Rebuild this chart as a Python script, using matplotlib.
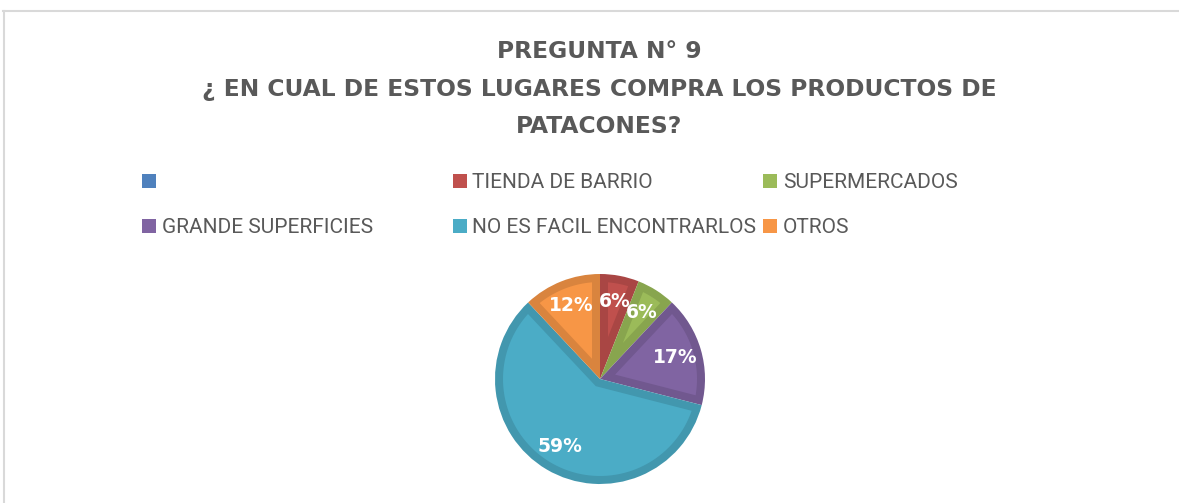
import numpy as np
import matplotlib

matplotlib.use("Agg")
import matplotlib.pyplot as plt
from matplotlib.patches import Rectangle, Polygon
from matplotlib.lines import Line2D
from matplotlib.colors import to_rgb

W, H = 1179, 503

TITLE_LINES = [
    "PREGUNTA N° 9",
    "¿ EN CUAL DE ESTOS LUGARES COMPRA LOS PRODUCTOS DE",
    "PATACONES?",
]
CATEGORIES = ["", "TIENDA DE BARRIO", "SUPERMERCADOS", "GRANDE SUPERFICIES",
              "NO ES FACIL ENCONTRARLOS", "OTROS"]
VALUES = [0, 6, 6, 17, 59, 12]
COLORS = ["#4F81BD", "#C0504D", "#9BBB59", "#8064A2", "#4BACC6", "#F79646"]

TITLE_FONT = ["DejaVu Sans"]
LEGEND_FONT = ["Roboto", "DejaVu Sans"]


def px(x, y):
    """pixel coords (from top-left) -> figure fraction"""
    return x / W, 1 - y / H


def darker(c, f=0.88):
    r, g, b = to_rgb(c)
    return (r * f, g * f, b * f)


def inset_wedge(t1, t2, r, d):
    """polygon of a wedge (degrees, ccw t1->t2) shrunk by d from every side"""
    a1, a2 = np.radians(t1), np.radians(t2)
    half = (a2 - a1) / 2
    mid = (a1 + a2) / 2
    s = d / np.sin(half)
    apex = (s * np.cos(mid), s * np.sin(mid))
    ri = r - d
    delta = np.arctan2(d, np.sqrt(ri ** 2 - d ** 2))
    arc = np.linspace(a1 + delta, a2 - delta, 80)
    pts = [apex] + [(ri * np.cos(a), ri * np.sin(a)) for a in arc]
    return pts


fig = plt.figure(figsize=(W / 100, H / 100), dpi=100)

# chart frame (only top and left visible in the crop)
frame = "#D9D9D9"
fig.add_artist(Line2D([3 / W, 1], [1 - 10.5 / H] * 2, color=frame, lw=1.5,
                      transform=fig.transFigure))
fig.add_artist(Line2D([3.5 / W] * 2, [0, 1 - 10.5 / H], color=frame, lw=1.5,
                      transform=fig.transFigure))

# title
for line, base in zip(TITLE_LINES, [58, 96, 133]):
    fig.text(*px(599, base), line, ha="center", va="baseline", fontsize=16.8,
             fontweight="bold", color="#595959", family=TITLE_FONT)

# legend, row-major like Excel
for i, (lab, col) in enumerate(zip(CATEGORIES, COLORS)):
    r, c = divmod(i, 3)
    x0 = 142 + c * 310.5
    base = 188 + r * 45
    fig.add_artist(Rectangle(px(x0, base), 14 / W, 14 / H, facecolor=col,
                             edgecolor="none", transform=fig.transFigure))
    fig.text(*px(x0 + 20, base), lab, ha="left", va="baseline", fontsize=15,
             color="#595959", family=LEGEND_FONT)

# pie
R_PX = 105
cx, cy = 600, 379
ax = fig.add_axes([(cx - R_PX) / W, (H - cy - R_PX) / H, 2 * R_PX / W, 2 * R_PX / H])
wedges, _ = ax.pie(VALUES, colors=[darker(c) for c in COLORS], startangle=90,
                   counterclock=False, radius=1,
                   wedgeprops=dict(linewidth=0))
bevel = 8 / R_PX
total = sum(VALUES)
for w, v, col in zip(wedges, VALUES, COLORS):
    if v == 0:
        continue
    ax.add_patch(Polygon(inset_wedge(w.theta1, w.theta2, 1, bevel), closed=True,
                         facecolor=col, edgecolor="none"))
    mid = np.radians((w.theta1 + w.theta2) / 2)
    ax.text(0.75 * np.cos(mid), 0.75 * np.sin(mid), f"{v / total * 100:.0f}%",
            ha="center", va="center", color="white", fontsize=13.5,
            fontweight="bold", family=TITLE_FONT)
ax.set_xlim(-1, 1)
ax.set_ylim(-1, 1)
ax.axis("off")

fig.savefig("out.png", dpi=100)
